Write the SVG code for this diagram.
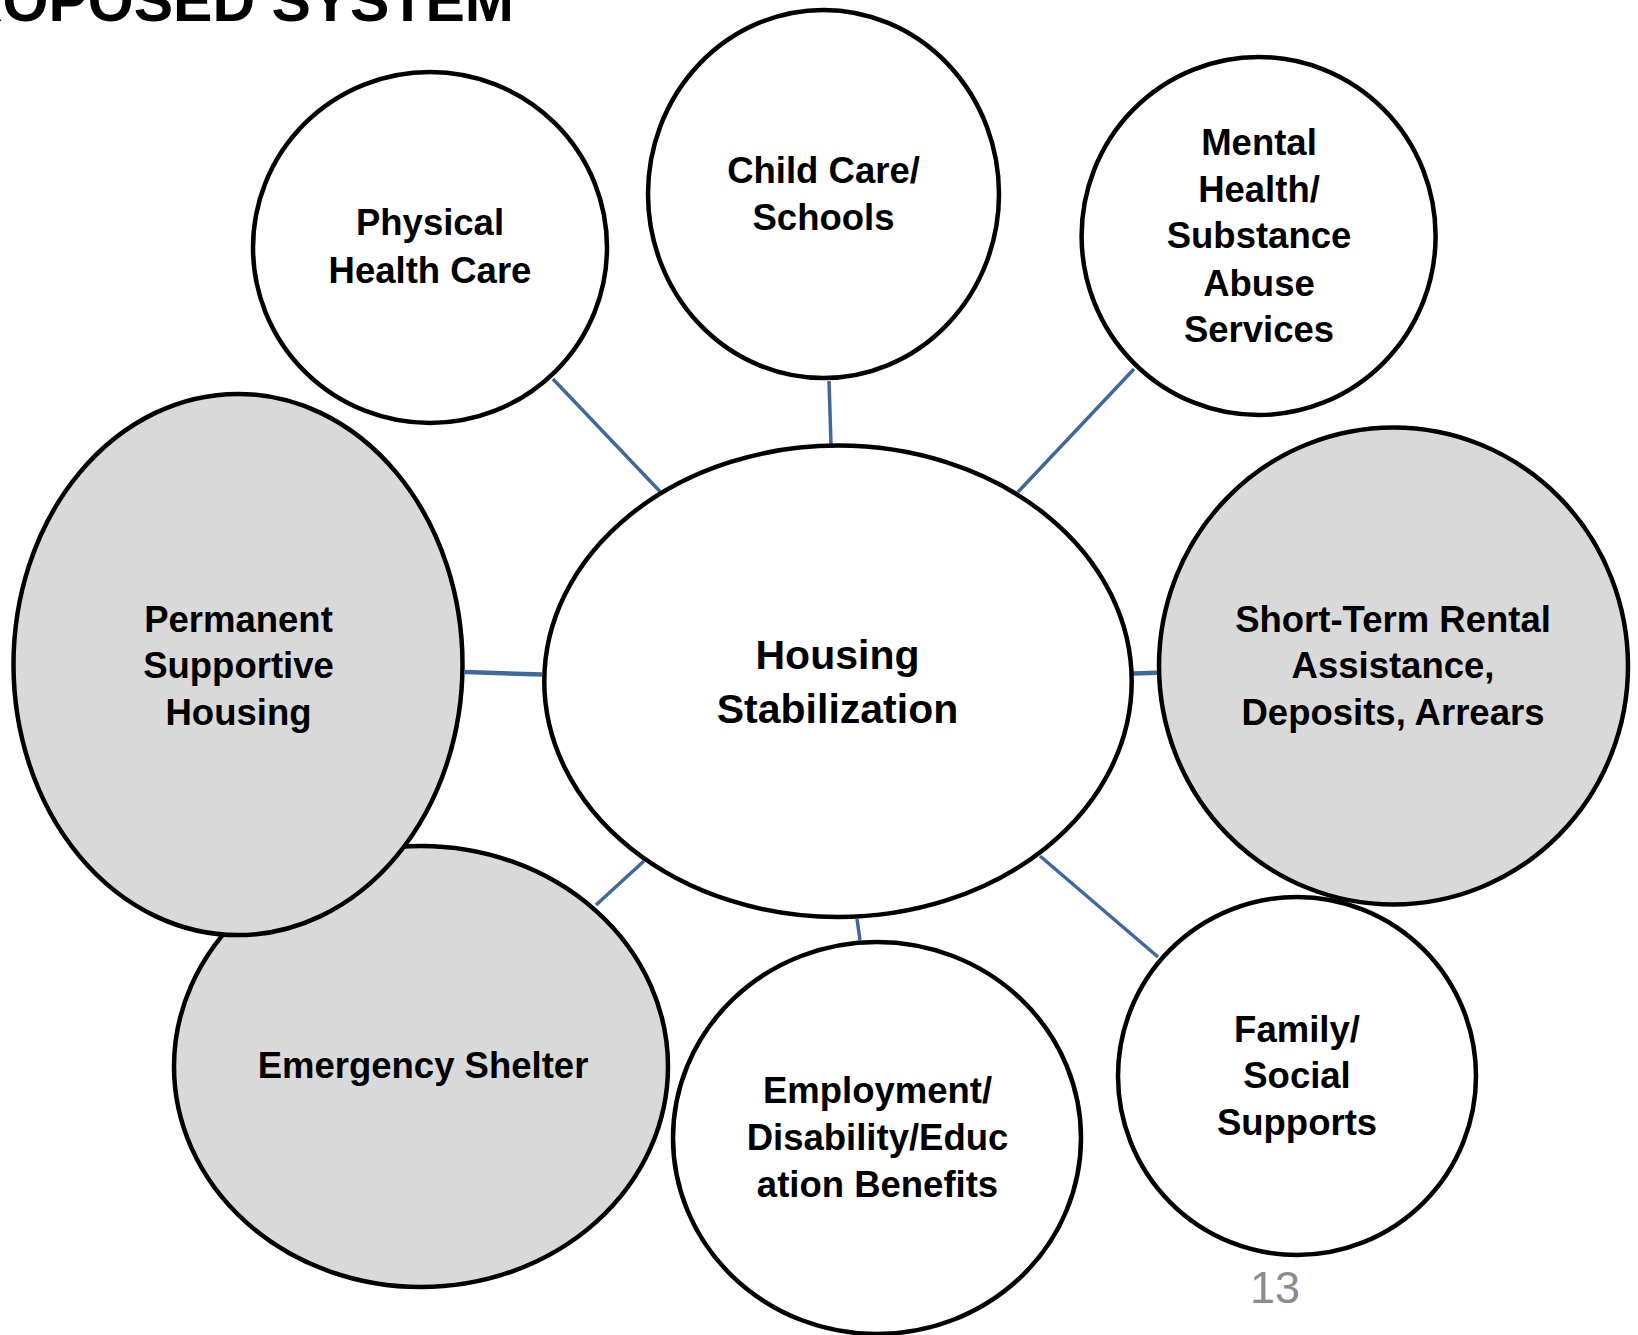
<svg xmlns="http://www.w3.org/2000/svg" width="1638" height="1335" viewBox="0 0 1638 1335">
<style>
.node{stroke:#000;stroke-width:4.5}
.w{fill:#fff}
.g{fill:#D9D9D9}
.lbl{font-family:"Liberation Sans",Arial,sans-serif;font-weight:bold;font-size:36.5px;fill:#000;text-anchor:middle}
.big{font-size:41px}
.conn line{stroke:#41689B;stroke-width:3.5;stroke-linecap:butt}
</style>
<rect width="1638" height="1335" fill="#fff"/>
<text x="514" y="21.4" font-family="Liberation Sans,Arial,sans-serif" font-weight="bold" font-size="59" text-anchor="end" fill="#000">PROPOSED SYSTEM</text>
<g id="connectors" class="conn">
<line x1="553" y1="379" x2="660" y2="491.5"/>
<line x1="829" y1="381" x2="831" y2="444"/>
<line x1="1134" y1="369" x2="1018" y2="492"/>
<line x1="465" y1="672" x2="542" y2="674.6" style="stroke-width:4.5"/>
<line x1="1133" y1="673.6" x2="1157" y2="672.7" style="stroke-width:4.5"/>
<line x1="596" y1="905" x2="644" y2="861"/>
<line x1="857" y1="919" x2="860" y2="940"/>
<line x1="1040" y1="856" x2="1158" y2="957"/>
</g>
<g id="physical-health-care">
<ellipse class="node w" cx="430" cy="247.5" rx="177" ry="175.5"/>
<text class="lbl"><tspan x="430" y="235">Physical</tspan><tspan x="430" y="283.3">Health Care</tspan></text>
</g>
<g id="child-care-schools">
<ellipse class="node w" cx="823.5" cy="194" rx="175.5" ry="184"/>
<text class="lbl"><tspan x="823.5" y="182.7">Child Care/</tspan><tspan x="823.5" y="230">Schools</tspan></text>
</g>
<g id="mental-health">
<ellipse class="node w" cx="1258.6" cy="236" rx="177" ry="179"/>
<text class="lbl"><tspan x="1259" y="155">Mental</tspan><tspan x="1259" y="201.7">Health/</tspan><tspan x="1259" y="248.3">Substance</tspan><tspan x="1259" y="295.7">Abuse</tspan><tspan x="1259" y="341.7">Services</tspan></text>
</g>
<g id="emergency-shelter">
<ellipse class="node g" cx="421" cy="1066.5" rx="247" ry="220.5"/>
<text class="lbl"><tspan x="423" y="1078.3">Emergency Shelter</tspan></text>
</g>
<g id="permanent-supportive-housing">
<ellipse class="node g" cx="238" cy="664.5" rx="224.5" ry="270.6"/>
<text class="lbl"><tspan x="238.5" y="631.7">Permanent</tspan><tspan x="238.5" y="678">Supportive</tspan><tspan x="238.5" y="724.6">Housing</tspan></text>
</g>
<g id="housing-stabilization">
<ellipse class="node w" cx="838" cy="681.3" rx="293.7" ry="235.7"/>
<text class="lbl big"><tspan x="837.5" y="669.3">Housing</tspan><tspan x="837.5" y="722.7">Stabilization</tspan></text>
</g>
<g id="family-social-supports">
<ellipse class="node w" cx="1297" cy="1076" rx="179" ry="179"/>
<text class="lbl"><tspan x="1297" y="1041.7">Family/</tspan><tspan x="1297" y="1088.3">Social</tspan><tspan x="1297" y="1135">Supports</tspan></text>
</g>
<g id="short-term-rental-assistance">
<ellipse class="node g" cx="1393.5" cy="666" rx="234.5" ry="238.5"/>
<text class="lbl"><tspan x="1393" y="631.7">Short-Term Rental</tspan><tspan x="1393" y="678">Assistance,</tspan><tspan x="1393" y="724.5">Deposits, Arrears</tspan></text>
</g>
<g id="employment-benefits">
<ellipse class="node w" cx="877" cy="1138" rx="204" ry="196"/>
<text class="lbl"><tspan x="877.5" y="1103.3">Employment/</tspan><tspan x="877.5" y="1150">Disability/Educ</tspan><tspan x="877.5" y="1196.7">ation Benefits</tspan></text>
</g>
<text x="1275" y="1303" font-family="Liberation Sans,Arial,sans-serif" font-size="45" text-anchor="middle" fill="#8C8C8C">13</text>
</svg>
